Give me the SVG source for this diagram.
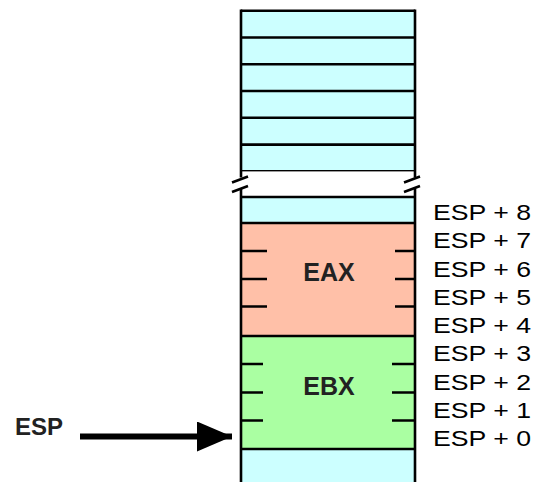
<svg xmlns="http://www.w3.org/2000/svg" width="534" height="482" viewBox="0 0 534 482">
<style>
.ln{stroke:#000;stroke-width:2.6;fill:none;stroke-linecap:butt}
.cy{fill:#CCFFFF}
.lab{font-family:"Liberation Sans",Arial,sans-serif;font-size:22px;fill:#000}
.reg{font-family:"Liberation Sans",Arial,sans-serif;font-size:25px;font-weight:bold;fill:#222;text-anchor:middle}
</style>
<defs>
<marker id="ah" markerUnits="userSpaceOnUse" markerWidth="36" markerHeight="30" refX="35" refY="15" orient="auto">
<path d="M0,0 L35,15 L0,30 Z" fill="#000"/>
</marker>
</defs>
<g id="stack-top">
<rect class="cy" x="241" y="10.7" width="174" height="161"/>
<path class="ln" d="M241,10.7 H415 M241,37.5 H415 M241,64.3 H415 M241,91 H415 M241,117.8 H415 M241,144.6 H415 M241,171.4 H415"/>
</g>
<g id="gap">
<rect x="241" y="171.4" width="174" height="25.6" fill="#fff"/>
</g>
<g id="cell-esp9">
<rect class="cy" x="241" y="197" width="174" height="26"/>
</g>
<g id="eax">
<rect x="241" y="223" width="174" height="113" fill="#FFC0A8"/>
<path class="ln" d="M241,251 H267 M241,279 H267 M241,306.5 H267 M395,251 H415 M395,279 H415 M395,306.5 H415"/>
<text class="reg" x="329" y="281">EAX</text>
</g>
<g id="ebx">
<rect x="241" y="336" width="174" height="113" fill="#AAFFA2"/>
<path class="ln" d="M241,364 H263 M241,392.5 H263 M241,420.5 H263 M392,364 H415 M392,392.5 H415 M392,420.5 H415"/>
<text class="reg" x="329" y="395">EBX</text>
</g>
<g id="cell-bottom">
<rect class="cy" x="241" y="449" width="174" height="33"/>
</g>
<g id="frame">
<path class="ln" d="M241,197 H415 M241,223 H415 M241,336 H415 M241,449 H415"/>
<path class="ln" d="M241,9.5 V177.5 M241,188.5 V482 M415,9.5 V177.5 M415,188.5 V482"/>
<path class="ln" d="M232,182.5 L248,176.5 M232,192 L248,186 M404,182.5 L420,176.5 M404,192 L420,186"/>
</g>
<g id="offsets">
<text class="lab" x="433" y="220" textLength="98" lengthAdjust="spacingAndGlyphs">ESP + 8</text>
<text class="lab" x="433" y="248.25" textLength="98" lengthAdjust="spacingAndGlyphs">ESP + 7</text>
<text class="lab" x="433" y="276.5" textLength="98" lengthAdjust="spacingAndGlyphs">ESP + 6</text>
<text class="lab" x="433" y="304.75" textLength="98" lengthAdjust="spacingAndGlyphs">ESP + 5</text>
<text class="lab" x="433" y="333" textLength="98" lengthAdjust="spacingAndGlyphs">ESP + 4</text>
<text class="lab" x="433" y="361.25" textLength="98" lengthAdjust="spacingAndGlyphs">ESP + 3</text>
<text class="lab" x="433" y="389.5" textLength="98" lengthAdjust="spacingAndGlyphs">ESP + 2</text>
<text class="lab" x="433" y="417.75" textLength="98" lengthAdjust="spacingAndGlyphs">ESP + 1</text>
<text class="lab" x="433" y="446" textLength="98" lengthAdjust="spacingAndGlyphs">ESP + 0</text>
</g>
<g id="esp-pointer">
<text x="15" y="435" style="font-family:'Liberation Sans',Arial,sans-serif;font-size:24px;font-weight:bold;fill:#222">ESP</text>
</g>
<g id="connectors">
<line x1="80" y1="436.5" x2="232" y2="436.5" stroke="#000" stroke-width="6" marker-end="url(#ah)"/>
</g>
</svg>
